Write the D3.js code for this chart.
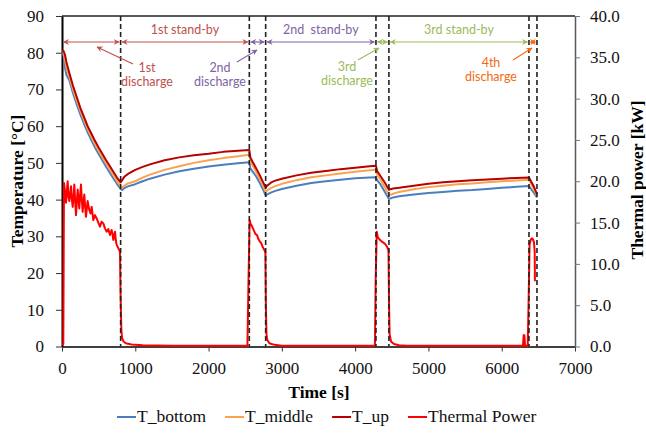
<!DOCTYPE html>
<html>
<head>
<meta charset="utf-8">
<script src="https://cdn.jsdelivr.net/npm/d3@7/dist/d3.min.js"></script>
<style>
  html, body { margin: 0; padding: 0; background: #fff; }
  svg { display: block; }
</style>
</head>
<body>
<svg id="chart" width="646" height="433"></svg>
<script>
// Time axis tick labels and value-axis ticks
const timeTicks = [0, 1000, 2000, 3000, 4000, 5000, 6000, 7000];
const tempTicks = [0, 10, 20, 30, 40, 50, 60, 70, 80, 90];
const powerTicks = [0, 5, 10, 15, 20, 25, 30, 35, 40];

// Phase boundaries [s]: discharge / stand-by switches
const phaseBounds = [0, 800, 2556, 2779, 4284, 4461, 6372, 6481];

// Temperature samples [s] and sensors [°C]
const tempTime = [0, 20, 40, 60, 100, 150, 200, 250, 300, 350, 400, 450, 500, 550, 600, 650, 700, 750, 800,
  820, 850, 900, 1000, 1100, 1200, 1400, 1600, 1800, 2000, 2200, 2400, 2556,
  2570, 2600, 2650, 2700, 2750, 2779,
  2800, 2850, 2900, 3000, 3200, 3400, 3600, 3800, 4000, 4200, 4284,
  4300, 4350, 4400, 4461,
  4480, 4520, 4600, 4800, 5000, 5200, 5400, 5600, 5800, 6000, 6200, 6372,
  6400, 6440, 6481];
const tBottom = [80.0, 79.5, 76.0, 74.0, 72.5, 69.0, 66.0, 63.2, 60.7, 58.3, 56.2, 54.2, 52.4, 50.7, 49.0, 47.4, 45.8, 44.3, 42.9,
  42.6, 43.1, 43.6, 44.2, 45.0, 45.7, 46.8, 47.7, 48.4, 49.0, 49.5, 49.9, 50.2,
  48.5, 47.7, 46.3, 44.5, 42.5, 41.1,
  41.4, 41.9, 42.3, 42.9, 43.8, 44.5, 45.0, 45.4, 45.8, 46.0, 46.1,
  45.3, 44.0, 42.3, 40.2,
  40.3, 40.6, 40.9, 41.4, 41.8, 42.1, 42.4, 42.6, 42.9, 43.2, 43.5, 43.7,
  42.9, 41.8, 40.6];
const tMiddle = [80.5, 80.3, 78.0, 76.0, 73.5, 70.0, 67.0, 64.2, 61.7, 59.2, 57.1, 55.1, 53.3, 51.6, 49.9, 48.3, 46.7, 45.1, 43.6,
  43.2, 43.8, 44.4, 45.0, 46.0, 46.8, 48.1, 49.1, 50.0, 50.7, 51.3, 51.8, 52.2,
  50.5, 49.3, 47.5, 45.6, 43.4, 42.1,
  42.5, 43.1, 43.6, 44.3, 45.3, 46.1, 46.6, 47.1, 47.6, 48.0, 48.1,
  46.8, 45.3, 43.5, 41.3,
  41.3, 41.6, 42.1, 42.8, 43.4, 43.8, 44.2, 44.4, 44.7, 45.0, 45.2, 45.4,
  44.3, 42.8, 41.0];
const tUp = [80.3, 80.5, 79.5, 77.5, 74.5, 71.0, 68.0, 65.0, 62.5, 60.0, 58.0, 56.0, 54.2, 52.5, 50.8, 49.2, 47.6, 46.0, 44.7,
  45.3, 46.2, 47.0, 48.1, 48.9, 49.6, 50.7, 51.5, 52.1, 52.5, 53.0, 53.3, 53.5,
  51.5, 50.3, 48.5, 46.6, 44.5, 43.3,
  43.8, 44.6, 45.1, 45.7, 46.6, 47.3, 47.8, 48.3, 48.7, 49.1, 49.2,
  47.8, 46.3, 44.8, 42.7,
  42.8, 43.0, 43.2, 43.8, 44.3, 44.7, 45.0, 45.3, 45.5, 45.7, 45.9, 46.0,
  45.0, 43.5, 41.5];

// Thermal power samples [s] and values [kW]
const powerTime = [0, 18, 27, 40, 55, 66, 77, 90, 100, 112, 123, 135, 146, 158, 168, 180, 191, 203, 214, 225, 236,
  248, 259, 270, 282, 294, 305, 316, 327, 340, 350, 362, 373, 390, 405, 427, 450, 473, 495, 518, 540,
  564, 586, 609, 632, 655, 677, 690, 700, 712, 723, 735, 746, 768, 791, 800, 810, 820, 840, 870,
  950, 1100, 1500, 2530,
  2545, 2560, 2575, 2590, 2610, 2625, 2640, 2660, 2680, 2700, 2720, 2740, 2760, 2775, 2782, 2790, 2800,
  2830, 2900, 3000, 4270,
  4280, 4295, 4310, 4330, 4350, 4380, 4410, 4440, 4455, 4463, 4470, 4490, 4530, 4600, 4700,
  6290, 6300, 6310, 6318, 6355, 6368, 6380, 6395, 6410, 6425, 6440, 6450, 6452, 6453];
const thermalPower = [0.3, 0.3, 19.8, 18.9, 17.4, 18.6, 20.0, 18.1, 17.6, 18.4, 19.4, 17.8, 16.9, 18.2, 19.6, 17.5, 15.9, 17.6, 19.0, 17.9, 16.7,
  18.3, 19.6, 17.8, 16.3, 17.6, 18.4, 16.9, 15.7, 16.8, 17.6, 17.0, 16.5, 16.1, 16.9, 15.3, 15.9, 15.5, 15.0, 14.5, 15.1,
  14.9, 14.3, 13.9, 14.2, 13.5, 14.1, 13.6, 12.9, 13.4, 13.9, 12.8, 12.3, 11.9, 11.5, 6.0, 2.0, 1.0, 0.6, 0.4,
  0.25, 0.15, 0.1, 0.1,
  8.0, 15.3, 14.8, 14.6, 14.2, 13.9, 13.6, 13.5, 13.0, 12.7, 12.5, 12.0, 11.7, 11.4, 5.0, 1.5, 0.8,
  0.4, 0.2, 0.1, 0.1,
  8.0, 13.9, 13.2, 13.0, 12.8, 12.6, 12.4, 12.0, 11.6, 5.0, 1.5, 0.6, 0.3, 0.15, 0.1,
  0.1, 1.4, 1.3, 0.1, 0.1, 6.0, 12.3, 12.9, 13.1, 13.0, 12.6, 11.5, 9.5, 7.9];

// Phase annotations
const phaseLabels = ["1st discharge", "1st stand-by", "2nd discharge", "2nd  stand-by", "3rd discharge", "3rd stand-by", "4th discharge"];
const phaseColors = ["#c0504d", "#c0504d", "#8064a2", "#8064a2", "#9bbb59", "#9bbb59", "#f26b12"];

const seriesNames = ["T_bottom", "T_middle", "T_up", "Thermal Power"];
const seriesColors = ["#4a7ebf", "#fba24c", "#b80000", "#ff0000"];

const svg = d3.select("#chart");
const serif = "'Liberation Serif', 'Times New Roman', serif";
const sans = "Lato, 'Open Sans', sans-serif";

const x = d3.scaleLinear().domain([0, 7000]).range([62, 575]);
const yT = d3.scaleLinear().domain([0, 90]).range([346.5, 16]);
const yP = d3.scaleLinear().domain([0, 40]).range([346.5, 16]);

// Top frame line
svg.append("line")
  .attr("x1", x(0)).attr("x2", x(7000)).attr("y1", yT(90)).attr("y2", yT(90))
  .attr("stroke", "#222").attr("stroke-width", 1.3);

// Axes
const gx = svg.append("g").attr("transform", `translate(0,${yT(0)})`)
  .call(d3.axisBottom(x).tickValues(timeTicks).tickSize(5).tickSizeOuter(0).tickFormat(d3.format("d")));
gx.select(".domain").attr("stroke", "#000").attr("stroke-width", 1.5);
gx.selectAll(".tick line").attr("stroke", "#333");
gx.selectAll("text").attr("y", 27.5).attr("dy", 0)
  .style("font-family", serif).style("font-size", "17px").attr("fill", "#111");

const gl = svg.append("g").attr("transform", `translate(${x(0)},0)`)
  .call(d3.axisLeft(yT).tickValues(tempTicks).tickSize(6).tickPadding(12).tickSizeOuter(0).tickFormat(d3.format("d")));
gl.select(".domain").attr("stroke", "#000").attr("stroke-width", 2);
gl.selectAll(".tick line").attr("stroke", "#333");
gl.selectAll("text").style("font-family", serif).style("font-size", "17px").attr("fill", "#111");

const gr = svg.append("g").attr("transform", `translate(${x(7000)},0)`)
  .call(d3.axisRight(yP).tickValues(powerTicks).tickSize(5).tickPadding(10).tickSizeOuter(0).tickFormat(d3.format(".1f")));
gr.select(".domain").attr("stroke", "#595959").attr("stroke-width", 1.5);
gr.selectAll(".tick line").attr("stroke", "#777");
gr.selectAll("text").style("font-family", serif).style("font-size", "17px").attr("fill", "#111");

// Axis titles
svg.append("text").attr("transform", "rotate(-90)")
  .attr("x", -181).attr("y", 23).attr("text-anchor", "middle")
  .style("font-family", serif).style("font-size", "17.5px").style("font-weight", "bold")
  .text("Temperature [°C]");
svg.append("text").attr("transform", "rotate(-90)")
  .attr("x", -180).attr("y", 643).attr("text-anchor", "middle")
  .style("font-family", serif).style("font-size", "17.5px").style("font-weight", "bold")
  .text("Thermal power [kW]");
svg.append("text")
  .attr("x", 319).attr("y", 398).attr("text-anchor", "middle")
  .style("font-family", serif).style("font-size", "17.5px").style("font-weight", "bold")
  .text("Time [s]");

// Temperature lines
const tempLine = d3.line().x((d, i) => x(tempTime[i])).y(d => yT(d));
[tBottom, tMiddle, tUp].forEach((vals, k) => {
  svg.append("path").datum(vals)
    .attr("d", tempLine)
    .attr("fill", "none").attr("stroke", seriesColors[k]).attr("stroke-width", 2)
    .attr("stroke-linejoin", "round");
});

// Thermal power line (secondary axis)
const powerLine = d3.line().x((d, i) => x(powerTime[i])).y(d => yP(d));
svg.append("path").datum(thermalPower)
  .attr("d", powerLine)
  .attr("fill", "none").attr("stroke", seriesColors[3]).attr("stroke-width", 2)
  .attr("stroke-linejoin", "round");

// Dashed phase separators
svg.append("g").selectAll("line").data(phaseBounds.slice(1)).join("line")
  .attr("x1", d => x(d)).attr("x2", d => x(d))
  .attr("y1", yT(90)).attr("y2", yT(0))
  .attr("stroke", "#222").attr("stroke-width", 1.6).attr("stroke-dasharray", "5,3");

// Arrow markers per colour
const defs = svg.append("defs");
const uniqColors = Array.from(new Set(phaseColors));
uniqColors.forEach((c, i) => {
  defs.append("marker").attr("id", "arr" + i)
    .attr("viewBox", "0 0 10 10").attr("refX", 9).attr("refY", 5)
    .attr("markerWidth", 6).attr("markerHeight", 6).attr("orient", "auto-start-reverse")
    .attr("markerUnits", "userSpaceOnUse")
    .append("path").attr("d", "M0,0 L10,5 L0,10 L3,5 Z").attr("fill", c);
});
const markerFor = c => `url(#arr${uniqColors.indexOf(c)})`;

// Double-headed span arrows between boundaries
const arrowY = 42;
phaseLabels.forEach((lab, i) => {
  const x0 = x(phaseBounds[i]) + 1.5, x1 = x(phaseBounds[i + 1]) - 1.5;
  svg.append("line")
    .attr("x1", x0).attr("x2", x1).attr("y1", arrowY).attr("y2", arrowY)
    .attr("stroke", phaseColors[i]).attr("stroke-width", 1.2)
    .attr("marker-start", markerFor(phaseColors[i]))
    .attr("marker-end", markerFor(phaseColors[i]));
});

// Stand-by labels above the spans
[1, 3, 5].forEach(i => {
  const cx = (x(phaseBounds[i]) + x(phaseBounds[i + 1])) / 2;
  svg.append("text").attr("x", cx).attr("y", 34).attr("text-anchor", "middle")
    .style("font-family", sans).style("font-size", "12.5px").style("white-space", "pre")
    .attr("fill", phaseColors[i]).text(phaseLabels[i]);
});

// Discharge labels with pointer arrows
const dischargeNotes = [
  { i: 0, tx: 147, ty: 72, from: [133, 64], to: [97, 47] },
  { i: 2, tx: 220, ty: 72, from: [237, 62], to: [257, 50] },
  { i: 4, tx: 347, ty: 71, from: [358, 60], to: [379, 48] },
  { i: 6, tx: 491, ty: 67, from: [513, 60], to: [532, 48] }
];
dischargeNotes.forEach(n => {
  const c = phaseColors[n.i];
  const words = phaseLabels[n.i].split(" ");
  const t = svg.append("text").attr("text-anchor", "middle")
    .style("font-family", sans).style("font-size", "12.5px").attr("fill", c);
  t.append("tspan").attr("x", n.tx).attr("y", n.ty).text(words[0]);
  t.append("tspan").attr("x", n.tx).attr("y", n.ty + 14).text(words[1]);
  svg.append("line")
    .attr("x1", n.from[0]).attr("y1", n.from[1]).attr("x2", n.to[0]).attr("y2", n.to[1])
    .attr("stroke", c).attr("stroke-width", 1.1)
    .attr("marker-end", markerFor(c));
});

// Legend
const legend = svg.append("g");
let lx = 117;
const ly = 417;
seriesNames.forEach((name, k) => {
  legend.append("line").attr("x1", lx).attr("x2", lx + 19).attr("y1", ly).attr("y2", ly)
    .attr("stroke", seriesColors[k]).attr("stroke-width", 2);
  const t = legend.append("text").attr("x", lx + 20).attr("y", ly + 5)
    .style("font-family", serif).style("font-size", "17.5px").attr("fill", "#111").text(name);
  lx += 20 + t.node().getComputedTextLength() + 19;
});
</script>
</body>
</html>
